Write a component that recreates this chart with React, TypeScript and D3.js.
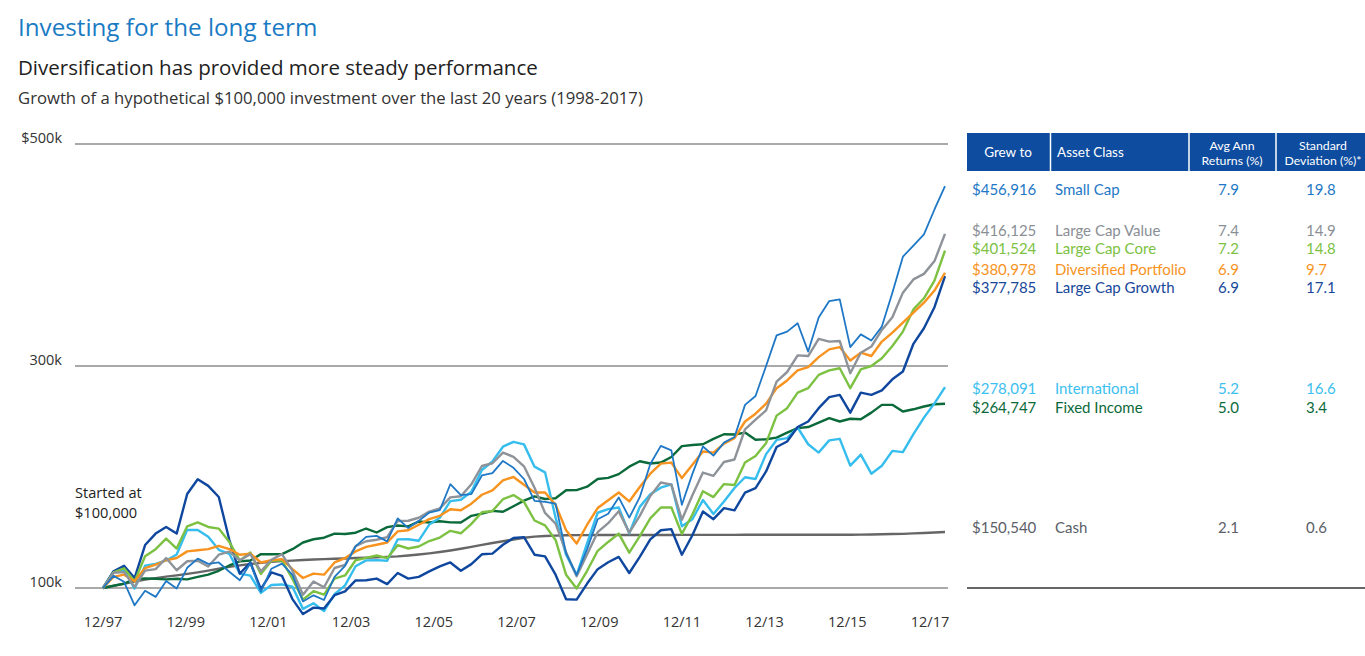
import React from 'react';
import * as d3 from 'd3';

// quarter-end values in $k, from 12/97 to 12/17 (81 points each)
const tickLabels = ['12/97', '12/99', '12/01', '12/03', '12/05', '12/07', '12/09', '12/11', '12/13', '12/15', '12/17'];
const yTicks = [100, 300, 500];
const yTickLabels = ['100k', '300k', '$500k'];

const smallCap = [
  100, 110.9, 105.6, 84.4, 97.5, 92, 106.3, 99.6, 118.2, 126.5, 121.7, 123, 114.6, 107, 122.3, 96.8,
  117.4, 122, 111.8, 87.9, 93.4, 89.2, 110, 120, 137.5, 146, 147, 142, 162.7, 154, 160.5, 168,
  170.1, 193.5, 183.7, 184.6, 201.4, 203.5, 214.5, 208.3, 198.2, 178.5, 177.5, 176, 131.2, 111.7, 135, 162,
  166.9, 181.6, 163.4, 181.8, 211.7, 228, 224, 175, 202.8, 227.5, 219.3, 231, 236, 265, 273, 300,
  327.6, 331, 338.5, 313, 343.6, 358.5, 360, 317, 328.5, 323, 335.5, 366, 398.5, 408.4, 418.5, 441,
  462,
];

const largeValue = [
  100, 113.7, 114.3, 101, 115.6, 117, 127, 116, 124.1, 124.6, 119.3, 130, 132.8, 125, 130.5, 115,
  125.4, 130.5, 115.6, 94, 105.9, 100.7, 118, 120.9, 137.7, 142.1, 143.5, 145.8, 160.4, 160.6, 163.3, 168.8,
  171.7, 181.6, 182.7, 193.4, 209.9, 212.4, 222, 218.2, 209.6, 190.3, 167.6, 158, 132.3, 110.5, 130.5, 150.3,
  158.4, 169.2, 149.9, 165, 182.9, 195, 193.1, 161.5, 183.6, 204, 201, 213.5, 215.8, 243, 251.6, 260,
  286, 294.6, 309.6, 309, 324.4, 322, 322.5, 293.5, 312, 317.5, 332.5, 344, 366.1, 378, 383, 394.5,
  419,
];

const largeCore = [
  100, 114, 117.8, 106, 128.6, 135, 144.5, 135.5, 155.6, 159.2, 155, 153.5, 141.5, 124.7, 132, 112.6,
  124.6, 124.9, 108.2, 89.5, 97.1, 94, 108.5, 111.3, 125, 127.1, 129.3, 126.9, 138.6, 135.6, 137.4, 142.3,
  145.4, 151.5, 149.3, 157.8, 168.3, 169.4, 180, 183.7, 177.6, 160.8, 156.4, 143.3, 111.9, 99.6, 115.5, 133.5,
  141.5, 149, 131.8, 146.7, 162.8, 172.5, 172.6, 148.7, 166.2, 187.1, 181.9, 193.6, 192.8, 213, 219, 230.5,
  255.3, 262, 276, 280, 292, 296, 298, 280, 297, 300, 307, 318, 331, 351, 361, 377,
  404,
];

const diversified = [
  100, 110, 112, 106, 118, 121, 125, 127, 133, 134, 135, 138, 135, 130, 131, 123,
  125, 126, 117, 109, 113, 112, 123, 127, 133, 137, 139, 141, 151, 152, 157, 162,
  165, 171, 170, 176, 184, 188, 197, 200, 193, 186, 186, 175, 152, 140, 157, 172,
  179, 186, 178, 191, 203, 212, 213, 199, 211, 223, 222, 230, 235, 250, 257, 266,
  280, 287, 296, 299, 308, 315, 317, 305, 312, 309, 322, 330, 339, 348, 357, 368,
  384,
];

const largeGrowth = [
  100, 115, 120, 109, 138.7, 149, 155, 149, 184.7, 198, 192, 182, 143.4, 113, 123, 99,
  114.1, 111, 90, 76.5, 82.3, 81.5, 93.5, 97, 106.8, 107, 108.5, 103.5, 113.5, 108.5, 110, 115,
  119.5, 123, 115.5, 121.5, 130.4, 131, 139, 145, 145.8, 130, 128.5, 112, 89.8, 89.5, 104, 117,
  123.2, 128, 113.5, 128, 143.8, 152, 153, 130, 147.5, 169, 162, 172, 170, 186, 190, 205,
  227, 232, 245, 250, 262, 272, 274, 258, 276, 274, 278, 288, 295, 320, 334, 353,
  381,
];

const international = [
  100, 114.9, 116, 99.5, 120, 121.7, 124.8, 130.2, 152.4, 152.3, 146.2, 134.4, 130.8, 112.9, 111.2, 95.6,
  102.7, 103.2, 101.1, 81.2, 86.3, 79.2, 94.4, 102.3, 119.6, 124.9, 125.1, 124.6, 143.8, 143.9, 142.6, 157.1,
  163.3, 178.3, 179.5, 186.7, 206.3, 214, 227.3, 231.7, 229.4, 209.3, 204.2, 163.4, 129.9, 111.6, 140.4, 167.8,
  171.1, 172.5, 149.2, 173.1, 184.4, 190.4, 193.4, 155.6, 162, 179.2, 166.7, 177.9, 190.1, 199.8, 198.2, 220.6,
  233.4, 235, 244.6, 229.5, 222, 233, 234.4, 210.3, 220.2, 203, 210.1, 223.5, 222.4, 238.6, 253.5, 266.3,
  281,
];

const fixedIncome = [
  100, 102, 104, 108, 108.7, 108.3, 107.8, 108.3, 107.8, 110, 112, 115.5, 120.3, 124, 124.8, 130.5,
  130.4, 130.5, 135, 141, 143.9, 145.3, 149, 148.6, 149.8, 153.6, 150, 154.8, 156.3, 155.5, 159.9, 159,
  160.1, 159.1, 159, 165, 167, 169.5, 168.7, 173.7, 178.7, 182.5, 180.2, 180.9, 188, 188.2, 191.3, 198.2,
  199.2, 202.6, 209.3, 214.2, 212.2, 213, 218, 227.8, 228.8, 229.5, 234.3, 238.5, 238.3, 240, 233.5, 234,
  235.5, 240, 244, 245, 249, 253, 250, 252.5, 252, 258, 265, 265, 259, 261, 263.5, 265.5,
  266,
];

const cash = [
  100, 101.9, 103.8, 105.7, 107.6, 108.9, 110.2, 111.4, 112.7, 114.1, 115.6, 117.3, 119, 120.4, 121.6, 122.7,
  123.6, 124.2, 124.7, 125.2, 125.7, 126, 126.3, 126.6, 127, 127.3, 127.6, 128, 128.5, 129.3, 130.2, 131.2,
  132.4, 133.8, 135.4, 137.1, 138.8, 140.5, 142.1, 143.7, 145.3, 146.3, 146.8, 147.2, 147.5, 147.6, 147.6, 147.7,
  147.7, 147.7, 147.8, 147.8, 147.8, 147.8, 147.8, 147.9, 147.9, 147.9, 147.9, 147.9, 147.9, 148, 148, 148,
  148, 148, 148, 148, 148, 148, 148, 148, 148.1, 148.2, 148.4, 148.6, 148.8, 149.2, 149.6, 150,
  150.5,
];

const names = ['Small Cap', 'Large Cap Value', 'Large Cap Core', 'Diversified Portfolio', 'Large Cap Growth', 'International', 'Fixed Income', 'Cash'];
const grewTo = ['$456,916', '$416,125', '$401,524', '$380,978', '$377,785', '$278,091', '$264,747', '$150,540'];
const avgReturns = ['7.9', '7.4', '7.2', '6.9', '6.9', '5.2', '5.0', '2.1'];
const stdDevs = ['19.8', '14.9', '14.8', '9.7', '17.1', '16.6', '3.4', '0.6'];
const seriesValues = [smallCap, largeValue, largeCore, diversified, largeGrowth, international, fixedIncome, cash];

const lineColors = ['#1f78c6', '#8e9399', '#7cc142', '#f7931e', '#0f479f', '#35bdee', '#0b6a3a', '#666666'];
const textColors = ['#1f78c6', '#8a8f95', '#7cc142', '#f7931e', '#17489a', '#3cc0ef', '#0b6a3a', '#5b6068'];
const rowY = [190, 230.5, 249, 270, 288, 389, 408, 528];
// draw order, back to front
const drawOrder = [7, 6, 5, 4, 2, 3, 1, 0];

const FONT = '"Open Sans", "Noto Sans", sans-serif';
const TABLE_FONT = 'Lato, "Open Sans", sans-serif';

export default function App() {
  const x = d3.scaleLinear().domain([0, 80]).range([103, 945]);
  const xTick = d3.scalePoint<string>().domain(tickLabels).range([103, 930]);
  const y = d3.scaleLinear().domain([100, 500]).range([588, 144]);
  const line = d3.line<number>().x((_, i) => x(i)).y(d => y(d));

  return (
    <svg width={1365} height={656} style={{ position: 'absolute', left: 0, top: 0, fontFamily: FONT }}>
      <rect width={1365} height={656} fill="#fff" />
      <text x={18} y={36} fontSize={24.2} fill="#1a7bc4">Investing for the long term</text>
      <text x={18} y={75} fontSize={20.5} fill="#222">Diversification has provided more steady performance</text>
      <text x={18} y={104} fontSize={16.7} fill="#333">Growth of a hypothetical $100,000 investment over the last 20 years (1998-2017)</text>

      {yTicks.map((t, i) => (
        <g key={t}>
          <line x1={75} x2={948} y1={y(t)} y2={y(t)} stroke="#8c8c8c" strokeWidth={1.5} />
          <text x={62} y={y(t) - 1} textAnchor="end" fontSize={14.5} fill="#333">{yTickLabels[i]}</text>
        </g>
      ))}

      {tickLabels.map(t => (
        <text key={t} x={xTick(t)} y={627} textAnchor="middle" fontSize={14.5} fill="#333">{t}</text>
      ))}

      <text x={75} y={498} fontSize={14.6} fill="#222">Started at</text>
      <text x={75} y={518} fontSize={14.6} fill="#222">$100,000</text>

      {drawOrder.map(i => (
        <path key={names[i]} d={line(seriesValues[i]) ?? ''} fill="none" stroke={lineColors[i]}
          strokeWidth={i === 0 ? 1.8 : 2.4} strokeLinejoin="round" />
      ))}

      <g fontFamily={TABLE_FONT}>
        <rect x={967} y={133} width={398} height={38} fill="#0d4c9f" />
        {[1050.5, 1189, 1276].map(d => (
          <line key={d} x1={d} x2={d} y1={133} y2={171} stroke="#fff" strokeWidth={1.5} />
        ))}
        <text x={1008} y={157} textAnchor="middle" fontSize={13.5} fill="#fff">Grew to</text>
        <text x={1057} y={157} fontSize={13.5} fill="#fff">Asset Class</text>
        <text x={1232} y={150} textAnchor="middle" fontSize={12.3} fill="#fff">Avg Ann</text>
        <text x={1232} y={165} textAnchor="middle" fontSize={12.3} fill="#fff">Returns (%)</text>
        <text x={1323} y={150} textAnchor="middle" fontSize={12.3} fill="#fff">Standard</text>
        <text x={1323} y={165} textAnchor="middle" fontSize={12.3} fill="#fff">Deviation (%)*</text>
        {names.map((n, i) => (
          <g key={n} fill={textColors[i]} fontSize={15}>
            <text x={972} y={rowY[i] + 5}>{grewTo[i]}</text>
            <text x={1055} y={rowY[i] + 5}>{n}</text>
            <text x={1218} y={rowY[i] + 5}>{avgReturns[i]}</text>
            <text x={1306} y={rowY[i] + 5}>{stdDevs[i]}</text>
          </g>
        ))}
        <line x1={967} x2={1365} y1={588} y2={588} stroke="#666" strokeWidth={2} />
      </g>
    </svg>
  );
}
